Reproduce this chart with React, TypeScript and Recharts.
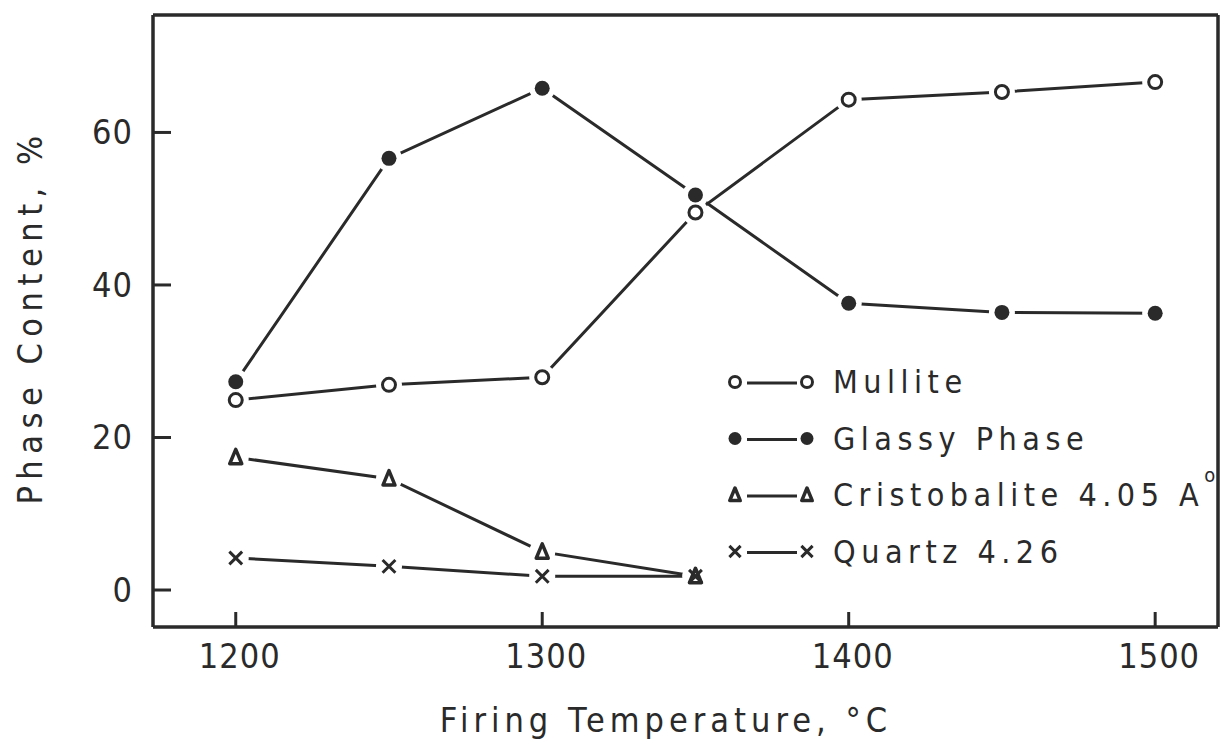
import React from "react";
import { LineChart, Line, XAxis, YAxis, ReferenceLine } from "recharts";

const temps = [1200, 1250, 1300, 1350, 1400, 1450, 1500];
const mullite = [24.9, 26.9, 27.9, 49.5, 64.3, 65.3, 66.6];
const glassy = [27.3, 56.6, 65.8, 51.8, 37.6, 36.4, 36.3];
const cristobalite = [17.4, 14.6, 5.0, 1.8];
const quartz = [4.2, 3.1, 1.8, 1.8];

const xTicks = [1200, 1300, 1400, 1500];
const yTicks = [0, 20, 40, 60];
const xDomain = [1173, 1520.5];
const yDomain = [-4.85, 75.4];

const ink = "#2a2a2a";
const font = "'DejaVu Sans Condensed', 'DejaVu Sans', sans-serif";

const data = temps.map((t, i) => ({
  t,
  mullite: mullite[i],
  glassy: glassy[i],
  cristobalite: cristobalite[i],
  quartz: quartz[i],
}));

type Kind = "open" | "filled" | "triangle" | "cross";

const series: { key: string; kind: Kind }[] = [
  { key: "mullite", kind: "open" },
  { key: "glassy", kind: "filled" },
  { key: "cristobalite", kind: "triangle" },
  { key: "quartz", kind: "cross" },
];

function Marker({ kind, cx, cy, r = 8 }: { kind: Kind; cx: number; cy: number; r?: number }) {
  if (kind === "open") return <circle cx={cx} cy={cy} r={r - 1.5} fill="#fff" stroke={ink} strokeWidth={3} />;
  if (kind === "filled") return <circle cx={cx} cy={cy} r={r - 0.5} fill={ink} />;
  if (kind === "triangle") {
    const s = r;
    return (
      <path
        d={`M${cx},${cy - s} L${cx + s * 0.75},${cy + s * 0.8} L${cx - s * 0.75},${cy + s * 0.8} Z`}
        fill="none"
        stroke={ink}
        strokeWidth={3.5}
        strokeLinejoin="round"
      />
    );
  }
  const s = r * 0.8;
  return <path d={`M${cx - s},${cy - s} L${cx + s},${cy + s} M${cx + s},${cy - s} L${cx - s},${cy + s}`} stroke={ink} strokeWidth={3} />;
}

// pass 1: white halo so lines stop short of the markers, pass 2: the marker itself
const haloDot = (key: string) => (props: any) => {
  const { cx, cy, index, value } = props;
  if (cx == null || cy == null || value == null) return <g key={`h-${key}-${index}`} />;
  return <circle key={`h-${key}-${index}`} cx={cx} cy={cy} r={13} fill="#fff" />;
};

const markDot = (key: string, kind: Kind) => (props: any) => {
  const { cx, cy, index, value } = props;
  if (cx == null || cy == null || value == null) return <g key={`m-${key}-${index}`} />;
  return (
    <g key={`m-${key}-${index}`}>
      <Marker kind={kind} cx={cx} cy={cy} />
    </g>
  );
};

const XTick = (props: any) => {
  const { x, y, payload } = props;
  return (
    <g>
      <line x1={x} y1={y} x2={x} y2={y - 15} stroke={ink} strokeWidth={3} />
      <text x={x + 4} y={y + 29} textAnchor="middle" dominantBaseline="central" fontFamily={font} fontSize={34} fill={ink} letterSpacing={1}>
        {payload.value}
      </text>
    </g>
  );
};

const YTick = (props: any) => {
  const { x, y, payload } = props;
  return (
    <g>
      <line x1={x} y1={y} x2={x + 18} y2={y} stroke={ink} strokeWidth={3} />
      <text x={x - 20} y={y} textAnchor="end" dominantBaseline="central" fontFamily={font} fontSize={34} fill={ink} letterSpacing={1}>
        {payload.value}
      </text>
    </g>
  );
};

const legendRows: { kind: Kind; label: React.ReactNode }[] = [
  { kind: "open", label: "Mullite" },
  { kind: "filled", label: "Glassy Phase" },
  {
    kind: "triangle",
    label: (
      <>
        Cristobalite 4.05 A
        <tspan dy={-20} fontSize={20}>o</tspan>
      </>
    ),
  },
  { kind: "cross", label: "Quartz 4.26" },
];

const LegendBox = () => (
  <g transform="translate(720,355)">
    {legendRows.map((row, i) => {
      const cy = 27 + i * 56.5;
      return (
        <g key={i}>
          <line x1={27} y1={cy + 1} x2={77} y2={cy + 1} stroke={ink} strokeWidth={3} />
          <Marker kind={row.kind} cx={15} cy={cy} r={7} />
          <Marker kind={row.kind} cx={87} cy={cy} r={7} />
          <text x={113} y={cy} dominantBaseline="central" fontFamily={font} fontSize={32} fill={ink} letterSpacing={5.5}>
            {row.label}
          </text>
        </g>
      );
    })}
  </g>
);

export default function App() {
  return (
    <div style={{ position: "absolute", left: 0, top: 0, width: 1224, height: 749, background: "#fff" }}>
      <LineChart width={1224} height={749} data={data} margin={{ top: 15, right: 6, bottom: 0, left: 0 }}>
        <XAxis
          dataKey="t"
          type="number"
          domain={xDomain}
          ticks={xTicks}
          tick={<XTick />}
          tickLine={false}
          tickSize={0}
          tickMargin={0}
          height={122}
          axisLine={{ stroke: ink, strokeWidth: 3.5 }}
          allowDataOverflow
        />
        <YAxis
          type="number"
          domain={yDomain}
          ticks={yTicks}
          tick={<YTick />}
          tickLine={false}
          tickSize={0}
          tickMargin={0}
          width={153}
          axisLine={{ stroke: ink, strokeWidth: 3.5 }}
          allowDataOverflow
        />
        <ReferenceLine y={yDomain[1]} stroke={ink} strokeWidth={3.5} />
        <ReferenceLine x={xDomain[1]} stroke={ink} strokeWidth={3.5} />
        {series.map((s) => (
          <Line key={`l-${s.key}`} dataKey={s.key} stroke={ink} strokeWidth={3} dot={false} activeDot={false} isAnimationActive={false} />
        ))}
        {series.map((s) => (
          <Line key={`h-${s.key}`} dataKey={s.key} stroke="none" dot={haloDot(s.key)} activeDot={false} isAnimationActive={false} />
        ))}
        {series.map((s) => (
          <Line key={`m-${s.key}`} dataKey={s.key} stroke="none" dot={markDot(s.key, s.kind)} activeDot={false} isAnimationActive={false} />
        ))}
      </LineChart>
      <svg width={1224} height={749} style={{ position: "absolute", left: 0, top: 0, pointerEvents: "none" }}>
        <LegendBox />
        <text
          x={666}
          y={720}
          textAnchor="middle"
          dominantBaseline="central"
          fontFamily={font}
          fontSize={34}
          fill={ink}
          letterSpacing={5}
        >
          Firing Temperature, °C
        </text>
        <text
          transform="translate(30,317) rotate(-90)"
          textAnchor="middle"
          dominantBaseline="central"
          fontFamily={font}
          fontSize={34}
          fill={ink}
          letterSpacing={6.5}
        >
          Phase Content,  %
        </text>
      </svg>
    </div>
  );
}
